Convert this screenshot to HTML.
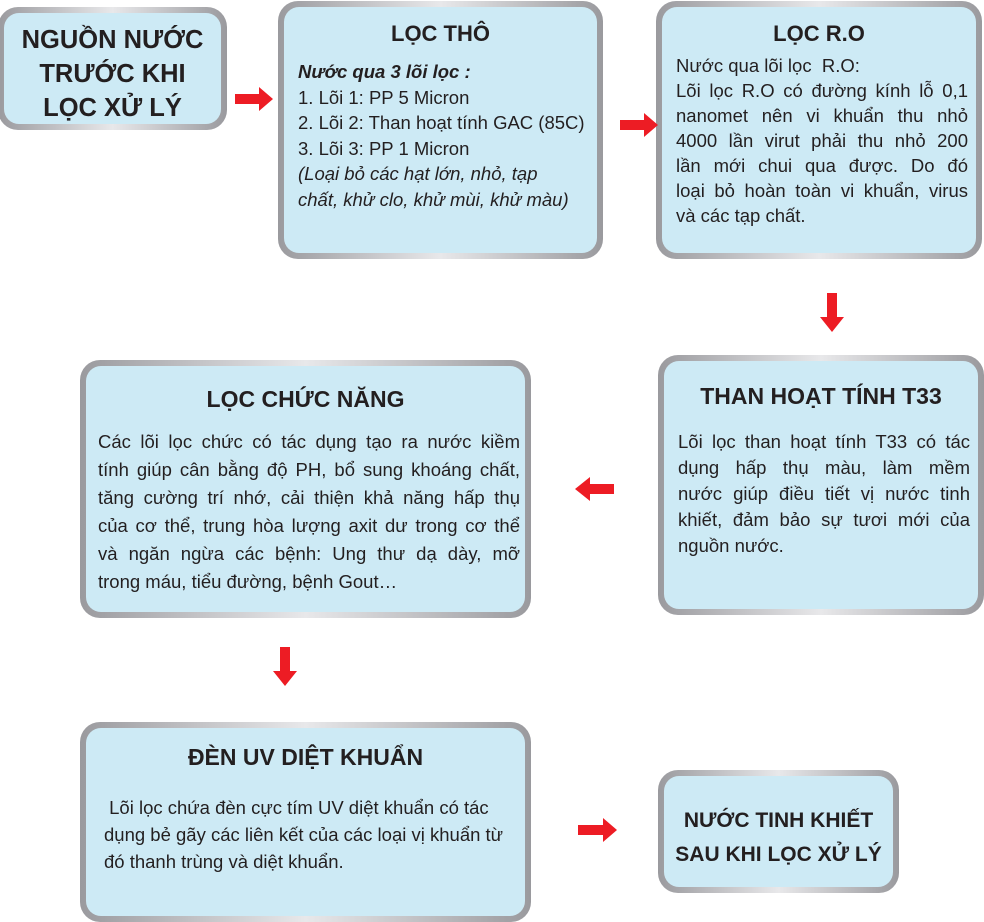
<!DOCTYPE html>
<html><head><meta charset="utf-8"><style>
body{margin:0;width:984px;height:894px;background:#fff;position:relative;overflow:hidden;font-family:"Liberation Sans","DejaVu Sans",sans-serif;color:#231f20}
.b{position:absolute;border-radius:20px;padding:6px;box-sizing:border-box;background:linear-gradient(90deg,#9a9a9e,#e8e8ea 50%,#9a9a9e);}
.b>.i{width:100%;height:100%;border-radius:15px;background:#cdeaf5;box-sizing:border-box;position:relative;overflow:hidden}
.t{position:absolute;left:0;right:0;text-align:center;font-weight:bold;font-size:22px}
.j{text-align:justify;text-align-last:justify;white-space:normal}
.ar{position:absolute}
</style></head><body>

<div class="b" style="left:-2px;top:7px;width:229px;height:123px"><div class="i">
<div style="position:absolute;left:0;right:0;top:10px;text-align:center;font-weight:bold;font-size:25.5px;line-height:34px">NGUỒN NƯỚC<br>TRƯỚC KHI<br>LỌC XỬ LÝ</div></div></div>

<div class="b" style="left:278px;top:1px;width:325px;height:258px"><div class="i">
<div class="t" style="top:14px">LỌC THÔ</div>
<div style="position:absolute;left:14px;top:52px;font-size:18.5px;line-height:25.5px;white-space:nowrap">
<i><b>Nước qua 3 lõi lọc :</b></i><br>1. Lõi 1: PP 5 Micron<br>2. Lõi 2: Than hoạt tính GAC (85C)<br>3. Lõi 3: PP 1 Micron<br><i>(Loại bỏ các hạt lớn, nhỏ, tạp<br>chất, khử clo, khử mùi, khử màu)</i></div></div></div>

<div class="b" style="left:656px;top:1px;width:326px;height:258px"><div class="i">
<div class="t" style="top:14px">LỌC R.O</div>
<div style="position:absolute;left:14px;width:292px;top:46px;font-size:18.5px;line-height:25px">
<div>Nước qua lõi lọc&nbsp; R.O:</div>
<div class="j">Lõi lọc R.O có đường kính lỗ 0,1</div>
<div class="j">nanomet nên vi khuẩn thu nhỏ</div>
<div class="j">4000 lần virut phải thu nhỏ 200</div>
<div class="j">lần mới chui qua được. Do đó</div>
<div class="j">loại bỏ hoàn toàn vi khuẩn, virus</div>
<div>và các tạp chất.</div></div></div></div>

<div class="b" style="left:658px;top:355px;width:326px;height:260px"><div class="i">
<div class="t" style="top:22px;font-size:23px">THAN HOẠT TÍNH T33</div>
<div style="position:absolute;left:14px;width:292px;top:68px;font-size:18.5px;line-height:26px">
<div class="j">Lõi lọc than hoạt tính T33 có tác</div>
<div class="j">dụng hấp thụ màu, làm mềm</div>
<div class="j">nước giúp điều tiết vị nước tinh</div>
<div class="j">khiết, đảm bảo sự tươi mới của</div>
<div>nguồn nước.</div></div></div></div>

<div class="b" style="left:80px;top:360px;width:451px;height:258px"><div class="i">
<div class="t" style="top:20px;font-size:23px">LỌC CHỨC NĂNG</div>
<div style="position:absolute;left:12px;width:422px;top:62px;font-size:18.5px;line-height:28px">
<div class="j">Các lõi lọc chức có tác dụng tạo ra nước kiềm</div>
<div class="j">tính giúp cân bằng độ PH, bổ sung khoáng chất,</div>
<div class="j">tăng cường trí nhớ, cải thiện khả năng hấp thụ</div>
<div class="j">của cơ thể, trung hòa lượng axit dư trong cơ thể</div>
<div class="j">và ngăn ngừa các bệnh: Ung thư dạ dày, mỡ</div>
<div>trong máu, tiểu đường, bệnh Gout…</div></div></div></div>

<div class="b" style="left:80px;top:722px;width:451px;height:200px"><div class="i">
<div class="t" style="top:16px;font-size:23px">ĐÈN UV DIỆT KHUẨN</div>
<div style="position:absolute;left:18px;width:420px;top:66px;font-size:18.5px;line-height:27px;white-space:nowrap">
&nbsp;Lõi lọc chứa đèn cực tím UV diệt khuẩn có tác<br>dụng bẻ gãy các liên kết của các loại vị khuẩn từ<br>đó thanh trùng và diệt khuẩn.</div></div></div>

<div class="b" style="left:658px;top:770px;width:241px;height:123px"><div class="i">
<div style="position:absolute;left:0;right:0;top:28px;text-align:center;font-weight:bold;font-size:21px;line-height:34px">NƯỚC TINH KHIẾT<br>SAU KHI LỌC XỬ LÝ</div></div></div>

<svg class="ar" style="left:0;top:0" width="984" height="894">
<g fill="#ed1c24">
<polygon points="235,94 259,94 259,87 273,99 259,111 259,104 235,104"/>
<polygon points="620,120 644,120 644,113 658,125 644,137 644,130 620,130"/>
<polygon points="827,293 837,293 837,317 844,317 832,332 820,317 827,317"/>
<polygon points="614,484 590,484 590,477 575,489 590,501 590,494 614,494"/>
<polygon points="280,647 290,647 290,671 297,671 285,686 273,671 280,671"/>
<polygon points="578,825 603,825 603,818 617,830 603,842 603,835 578,835"/>
</g></svg>
</body></html>
